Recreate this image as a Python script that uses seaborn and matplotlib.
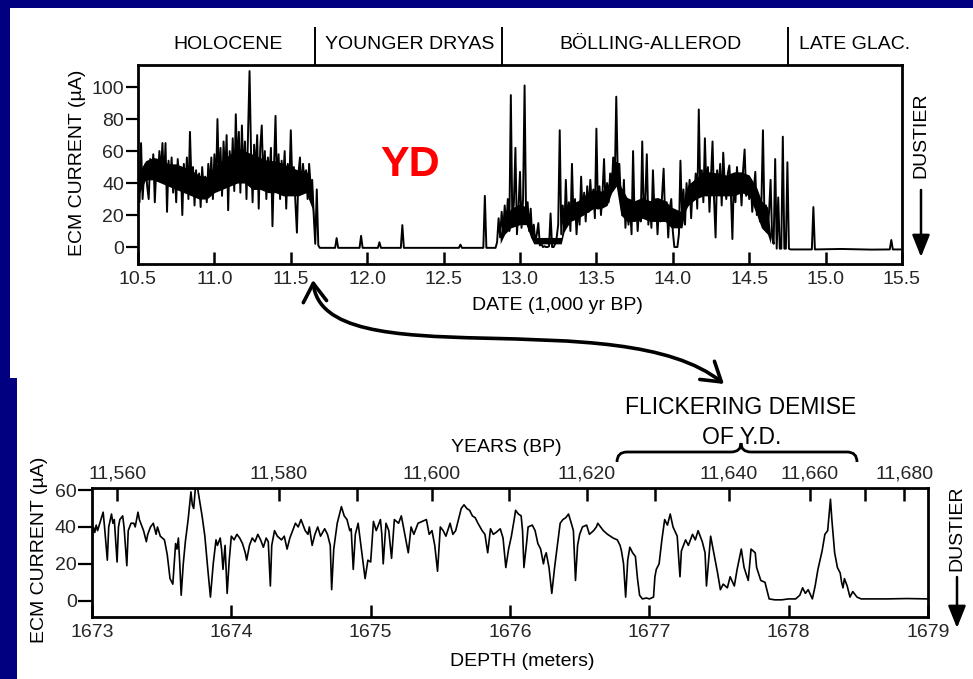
import numpy as np
import pandas as pd
import matplotlib
matplotlib.use("Agg")
import matplotlib.pyplot as plt
import seaborn as sns
from matplotlib.path import Path
from matplotlib.patches import PathPatch, FancyArrowPatch, Rectangle
from matplotlib.transforms import Affine2D, blended_transform_factory

# ---------------- DATA ----------------
# Top panel: ECM current vs date (1,000 yr BP)
holo_start = 10.50            # dense section, 0.01 kyr sampling
holo_ecm = [40, 28, 65, 30, 46, 52, 38, 30, 55, 44,
            58, 28, 50, 42, 60, 46, 65, 40, 65, 22,
            54, 38, 56, 34, 50, 28, 55, 42, 50, 20,
            52, 36, 56, 30, 72, 40, 50, 26, 48, 34,
            46, 25, 50, 36, 44, 28, 52, 38, 56, 30,
            58, 36, 80, 40, 62, 32, 66, 44, 70, 23,
            60, 40, 68, 35, 83, 48, 72, 34, 76, 44,
            66, 30, 70, 110, 58, 28, 64, 46, 70, 24,
            62, 76, 40, 60, 30, 56, 44, 62, 13, 50,
            82, 36, 58, 30, 54, 42, 60, 24, 52, 38,
            73, 40, 50, 28, 9, 46, 56, 34, 52, 40,
            48, 30, 52, 38, 42, 20, 2]

# solid black core band of the Holocene section
holo_core_date = [10.50, 10.55, 10.60, 10.65, 10.70, 10.75, 10.80, 10.85, 10.90, 10.95,
                  11.00, 11.05, 11.10, 11.15, 11.20, 11.25, 11.30, 11.35, 11.40, 11.45,
                  11.50, 11.55, 11.60, 11.64, 11.66]
holo_core_hi = [46, 54, 56, 55, 52, 52, 50, 48, 45, 44, 50, 54, 58, 62, 60, 58, 56, 54, 54, 52,
                50, 48, 48, 40, 5]
holo_core_lo = [32, 42, 42, 40, 38, 36, 34, 32, 30, 30, 34, 36, 38, 40, 40, 36, 36, 34, 34, 32,
                32, 32, 34, 24, 1]

yd_date = [11.67, 11.68, 11.69, 11.79, 11.80, 11.81, 11.95, 11.96, 11.97,
           12.07, 12.08, 12.09, 12.22, 12.23, 12.24, 12.60, 12.61, 12.62,
           12.76, 12.77, 12.78, 12.84]
yd_ecm = [36, 1, -0.5, -0.5, 5.6, -0.5, -0.5, 7, -0.5,
          -0.5, 3, -0.5, -0.5, 13.7, -0.5, -0.5, 1.5, -0.5,
          -0.5, 32, -0.5, -0.5]

ba_start = 12.85              # dense section, 0.01 kyr sampling
ba_ecm = [3, 18, 6, 22, 10,
          26, 12, 30, 10, 95,
          14, 28, 62, 8, 24,
          47, 12, 30, 101, 16,
          28, 10, 24, 6, 14,
          3, 8, 15, 1, 2,
          0, 0.5, 0, 0, 0.5,
          21, 0, 0, 2, 6,
          14, 73, 8, 26, 10,
          42, 14, 28, 10, 52,
          18, 30, 8, 26, 14,
          44, 20, 34, 16, 38,
          22, 42, 26, 36, 18,
          74, 24, 38, 20, 34,
          55, 26, 40, 28, 46,
          36, 56, 40, 94, 44,
          52, 30, 20, 42, 12,
          30, 14, 26, 8, 60,
          18, 28, 10, 24, 16,
          66, 20, 30, 58, 14,
          28, 12, 48, 22, 30,
          8, 26, 16, 32, 49,
          18, 28, 6, 24, 30,
          10, 0, 0, 0, 8,
          54, 20, 36, 14, 40,
          26, 42, 18, 38, 30,
          46, 24, 86, 34, 48,
          28, 68, 36, 50, 22,
          44, 66, 30, 6, 48,
          36, 52, 26, 59, 40,
          30, 46, 51, 34, 5,
          44, 28, 50, 36, 42,
          26, 48, 61, 32, 44,
          30, 42, 22, 36, 47,
          20, 32, 16, 28, 73,
          18, 26, 10, 22, 42,
          6, 2, 55, -1, 31,
          -1, -1, 69, -1, -1,
          53, -1]

# solid black core band of the Bölling-Allerød section
ba_core_date = [12.87, 12.90, 12.94, 13.00, 13.04, 13.07, 13.09, 13.27, 13.29,
                13.33, 13.38, 13.43, 13.48, 13.53, 13.57, 13.60, 13.63, 13.66, 13.70,
                13.75, 13.80, 13.85, 13.90, 13.95, 13.99, 14.06, 14.08, 14.10,
                14.15, 14.20, 14.25, 14.30, 14.35, 14.40, 14.45, 14.50, 14.55, 14.58,
                14.62, 14.64]
ba_core_hi = [8, 18, 24, 27, 25, 14, 6, 6, 22, 27, 29, 33, 36, 35, 37, 48, 54, 38, 31,
              29, 31, 29, 31, 29, 25, 22, 34, 39, 43, 47, 47, 46, 45, 47, 47, 45, 37, 29,
              25, 8]
ba_core_lo = [2, 8, 12, 14, 14, 6, 2, 2, 10, 16, 18, 21, 24, 24, 26, 34, 38, 20, 16,
              16, 18, 16, 16, 16, 12, 12, 22, 26, 30, 32, 32, 32, 32, 32, 34, 32, 20, 12,
              8, 2]

late_date = [14.77, 14.85, 14.91, 14.92, 14.93, 15.10, 15.30, 15.42, 15.43, 15.44, 15.50]
late_ecm = [-1.5, -1.5, -1.5, 25, -1.5, -1.2, -1.6, -1.5, 4.4, -1.5, -1.5]

era_bounds = [11.66, 12.88, 14.755]
era_names = ["HOLOCENE", "YOUNGER DRYAS", "BÖLLING-ALLEROD", "LATE GLAC."]
era_centers = [11.09, 12.28, 13.856, 15.19]

top_xticks = [10.5, 11.0, 11.5, 12.0, 12.5, 13.0, 13.5, 14.0, 14.5, 15.0, 15.5]
top_yticks = [0, 20, 40, 60, 80, 100]

# Bottom panel: ECM current vs depth (m)
depth = [1673.00, 1673.01, 1673.02, 1673.03, 1673.04, 1673.06, 1673.08, 1673.09, 1673.11, 1673.12,
         1673.14, 1673.15, 1673.16, 1673.18, 1673.19, 1673.20, 1673.22, 1673.23, 1673.25, 1673.26,
         1673.28, 1673.30, 1673.31, 1673.33, 1673.34, 1673.36, 1673.37, 1673.39, 1673.40, 1673.42,
         1673.44, 1673.46, 1673.47, 1673.49, 1673.52, 1673.54, 1673.56, 1673.58, 1673.59, 1673.60,
         1673.61, 1673.62, 1673.63, 1673.64, 1673.655, 1673.67, 1673.69, 1673.71, 1673.72, 1673.73,
         1673.745, 1673.76, 1673.79, 1673.81, 1673.83, 1673.85, 1673.87, 1673.89, 1673.90, 1673.92,
         1673.93, 1673.94, 1673.955, 1673.97, 1673.985, 1674.00, 1674.02, 1674.04, 1674.06, 1674.08,
         1674.10, 1674.11, 1674.13, 1674.15, 1674.17, 1674.19, 1674.21, 1674.23, 1674.25, 1674.265,
         1674.28, 1674.29, 1674.31, 1674.33, 1674.36, 1674.38, 1674.40, 1674.42, 1674.44, 1674.46,
         1674.48, 1674.50, 1674.52, 1674.53, 1674.55, 1674.56, 1674.58, 1674.60, 1674.62, 1674.64,
         1674.67, 1674.69, 1674.71, 1674.72, 1674.735, 1674.76, 1674.79, 1674.81, 1674.83, 1674.85,
         1674.86, 1674.875, 1674.89, 1674.91, 1674.93, 1674.96, 1674.98, 1675.00, 1675.02, 1675.04,
         1675.07, 1675.08, 1675.09, 1675.11, 1675.13, 1675.15, 1675.17, 1675.20, 1675.22, 1675.24,
         1675.27, 1675.29, 1675.31, 1675.34, 1675.37, 1675.40, 1675.42, 1675.44, 1675.46, 1675.48,
         1675.50, 1675.52, 1675.54, 1675.57, 1675.59, 1675.61, 1675.63, 1675.65, 1675.67, 1675.69,
         1675.71, 1675.73, 1675.75, 1675.77, 1675.80, 1675.82, 1675.84, 1675.86, 1675.88, 1675.90,
         1675.93, 1675.95, 1675.97, 1675.99, 1676.01, 1676.03, 1676.04, 1676.06, 1676.08, 1676.09,
         1676.10, 1676.12, 1676.13, 1676.16, 1676.18, 1676.20, 1676.22, 1676.24, 1676.25, 1676.26,
         1676.28, 1676.30, 1676.32, 1676.34, 1676.36, 1676.38, 1676.40, 1676.42, 1676.44, 1676.455,
         1676.47, 1676.485, 1676.50, 1676.52, 1676.55, 1676.57, 1676.60, 1676.62, 1676.63, 1676.65,
         1676.67, 1676.70, 1676.72, 1676.74, 1676.77, 1676.79, 1676.80, 1676.815, 1676.83, 1676.845,
         1676.86, 1676.88, 1676.90, 1676.915, 1676.93, 1676.95, 1676.98, 1677.00, 1677.03, 1677.04,
         1677.05, 1677.07, 1677.09, 1677.11, 1677.13, 1677.15, 1677.17, 1677.20, 1677.22, 1677.23,
         1677.26, 1677.28, 1677.31, 1677.33, 1677.35, 1677.38, 1677.40, 1677.41, 1677.44, 1677.46,
         1677.49, 1677.51, 1677.53, 1677.56, 1677.58, 1677.61, 1677.63, 1677.66, 1677.68, 1677.71,
         1677.73, 1677.76, 1677.77, 1677.80, 1677.83, 1677.86, 1677.90, 1677.95, 1678.00, 1678.05,
         1678.08, 1678.10, 1678.12, 1678.14, 1678.17, 1678.19, 1678.21, 1678.24, 1678.26, 1678.28,
         1678.30, 1678.31, 1678.33, 1678.35, 1678.37, 1678.38, 1678.39, 1678.40, 1678.42, 1678.44,
         1678.46, 1678.49, 1678.52, 1678.70, 1678.85, 1679.00]
ecm_depth = [35, 40, 37, 41, 38, 43, 48, 40, 22, 40,
             47, 42, 44, 21, 40, 44, 46, 40, 19, 38,
             42, 42, 40, 48, 44, 40, 38, 32, 36, 40,
             42, 36, 40, 35, 33, 25, 12, 9, 20, 31,
             28, 34, 20, 3, 20, 32, 44, 59, 52, 50,
             64, 60, 46, 35, 18, 2, 20, 33, 30, 34,
             28, 17, 30, 4, 22, 35, 33, 36, 34, 31,
             26, 22, 30, 34, 32, 36, 33, 29, 34, 32,
             8, 30, 38, 35, 33, 35, 28, 34, 38, 42,
             40, 44, 40, 38, 36, 40, 30, 36, 40, 35,
             39, 36, 30, 6, 28, 42, 51, 46, 44, 38,
             39, 17, 36, 42, 30, 12, 22, 21, 43, 38,
             44, 36, 20, 42, 38, 23, 44, 42, 46, 38,
             26, 40, 36, 42, 43, 44, 36, 38, 30, 16,
             40, 38, 35, 42, 36, 38, 44, 50, 52, 50,
             49, 46, 45, 42, 38, 36, 26, 39, 36, 37,
             39, 34, 18, 28, 35, 44, 49, 47, 46, 38,
             18, 32, 40, 41, 38, 31, 28, 20, 24, 26,
             18, 4, 18, 30, 42, 44, 45, 47, 42, 38,
             11, 30, 36, 40, 41, 36, 38, 40, 42, 40,
             38, 36, 35, 34, 33, 30, 27, 20, 2, 22,
             29, 26, 24, 12, 3, 1, 1.5, 1, 2, 13,
             17, 20, 33, 44, 41, 47, 40, 35, 13, 27,
             33, 30, 36, 33, 38, 32, 26, 8, 35, 27,
             15, 6, 9, 7, 13, 8, 17, 28, 18, 11,
             28, 26, 18, 11, 10, 1, 0.5, 0.5, 1, 1,
             3, 7, 4, 6, 1, 8, 17, 27, 36, 38,
             55, 44, 26, 18, 15, 10, 7, 12, 8, 2,
             5, 2, 1, 1, 1.2, 1]

depth_ticks = [1673, 1674, 1675, 1676, 1677, 1678, 1679]
bot_yticks = [0, 20, 40, 60]
year_tick_depth = [1673.18, 1674.34, 1674.90, 1675.44, 1675.99, 1676.55,
                   1677.04, 1677.57, 1678.15, 1678.55, 1678.83]
year_tick_labels = ["11,560", "11,580", "", "11,600", "", "11,620",
                    "", "11,640", "11,660", "", "11,680"]

# ---------------- FIGURE ----------------
sns.set_theme(style="white")
plt.rcParams["font.family"] = ["Liberation Sans", "DejaVu Sans"]

W, H = 973, 679
fig = plt.figure(figsize=(W / 100, H / 100), dpi=100, facecolor="#000080")
pix = Affine2D().scale(1 / W, -1 / H).translate(0, 1) + fig.transFigure


def ptext(x, y, s, **kw):
    kw.setdefault("ha", "center")
    kw.setdefault("va", "center")
    kw.setdefault("fontsize", 14)
    kw.setdefault("color", "black")
    fig.text(x / W, 1 - y / H, s, **kw)


# white slide panels
fig.add_artist(Rectangle((10, 8), W - 10, 370, transform=pix,
                         facecolor="white", edgecolor="none", zorder=-10))
fig.add_artist(Rectangle((17, 370), W - 17, H - 370, transform=pix,
                         facecolor="white", edgecolor="none", zorder=-10))

ax1 = fig.add_axes([138 / W, 1 - 264 / H, 764 / W, 199 / H])
ax2 = fig.add_axes([92 / W, 1 - 617 / H, 836 / W, 129 / H])

# ---- top panel data ----
holo_date = holo_start + 0.01 * np.arange(len(holo_ecm))
ba_date = ba_start + 0.01 * np.arange(len(ba_ecm))
df_top = pd.DataFrame({
    "date": np.concatenate([holo_date, yd_date, ba_date, late_date]),
    "ecm": np.concatenate([holo_ecm, yd_ecm, ba_ecm, late_ecm]),
})
ax1.fill_between(holo_core_date, holo_core_lo, holo_core_hi, color="black",
                 lw=0, zorder=2)
ax1.fill_between(ba_core_date, ba_core_lo, ba_core_hi, color="black",
                 lw=0, zorder=2)
sns.lineplot(data=df_top, x="date", y="ecm", ax=ax1, color="black", lw=1.4,
             estimator=None, sort=False, zorder=3)

df_bot = pd.DataFrame({"depth": depth, "ecm": ecm_depth})
sns.lineplot(data=df_bot, x="depth", y="ecm", ax=ax2, color="black", lw=1.2,
             estimator=None, sort=False)

for ax in (ax1, ax2):
    ax.set_facecolor("white")
    for sp in ax.spines.values():
        sp.set_color("black")
        sp.set_linewidth(2.0)
        sp.set_visible(True)
    ax.set_xlabel("")
    ax.set_ylabel("")

# top axes
ax1.set_xlim(10.5, 15.5)
ax1.set_ylim(-10.6, 113.8)
ax1.set_xticks(top_xticks)
ax1.set_xticklabels([f"{t:.1f}" for t in top_xticks])
ax1.set_yticks(top_yticks)
ax1.tick_params(axis="x", direction="in", length=9, width=1.8, pad=5,
                labelsize=14, bottom=True, top=False, color="black")
ax1.tick_params(axis="y", direction="out", length=9, width=1.6, pad=1,
                labelsize=14, left=True, right=False, color="black")

# bottom axes
ax2.set_xlim(1673, 1679)
ax2.set_ylim(-8.8, 61.1)
ax2.set_xticks(depth_ticks)
ax2.set_yticks(bot_yticks)
ax2.tick_params(axis="x", direction="in", length=9, width=1.8, pad=5,
                labelsize=14, bottom=True, top=False, color="black")
ax2.tick_params(axis="y", direction="out", length=10, width=1.6, pad=1,
                labelsize=14, left=True, right=False, color="black")
axt = ax2.twiny()
axt.set_xlim(1673, 1679)
axt.set_xticks(year_tick_depth)
axt.set_xticklabels(year_tick_labels)
axt.tick_params(axis="x", direction="in", length=9, width=1.8, pad=4,
                labelsize=14, top=True, bottom=False, color="black")
for sp in axt.spines.values():
    sp.set_visible(False)

# era dividers and labels above top panel
btrans = blended_transform_factory(ax1.transData, ax1.transAxes)
for b in era_bounds:
    ax1.plot([b, b], [1.0, 1.19], transform=btrans, color="black", lw=1.4,
             clip_on=False, solid_capstyle="butt")
for name, c in zip(era_names, era_centers):
    ax1.text(c, 1.105, name, transform=btrans, ha="center", va="center",
             fontsize=14, color="black")

ax1.text(12.28, 51, "YD", color="#ff0000", fontsize=31, fontweight="bold",
         ha="center", va="center", zorder=5)

# axis labels
ptext(557, 305, "DATE (1,000 yr BP)")
ptext(77, 163, "ECM CURRENT (µA)", rotation=90)
ptext(40, 550, "ECM CURRENT (µA)", rotation=90)
ptext(522, 662, "DEPTH (meters)")
ptext(506, 447, "YEARS (BP)")
ptext(741, 407, "FLICKERING DEMISE", fontsize=16.5)
ptext(742, 437, "OF Y.D.", fontsize=16.5)
ptext(921, 135, "DUSTIER", rotation=90)
ptext(957, 528, "DUSTIER", rotation=90)

# DUSTIER arrows
for x0, y0, y1 in [(921, 190, 257), (957, 577, 628)]:
    fig.add_artist(FancyArrowPatch((x0, y0), (x0, y1), transform=pix,
                                   arrowstyle="-|>,head_length=0.75,head_width=0.3",
                                   mutation_scale=18, color="black", lw=1.8,
                                   shrinkA=0, shrinkB=0))

# brace over "flickering demise"
bv = [(617, 462), (617, 452), (627, 452),
      (731, 452), (741, 452), (741, 443),
      (741, 452), (751, 452),
      (847, 452), (857, 452), (857, 462)]
bc = [Path.MOVETO, Path.CURVE3, Path.CURVE3,
      Path.LINETO, Path.CURVE3, Path.CURVE3,
      Path.CURVE3, Path.CURVE3,
      Path.LINETO, Path.CURVE3, Path.CURVE3]
fig.add_artist(PathPatch(Path(bv, bc), transform=pix, facecolor="none",
                         edgecolor="black", lw=2.0))

# curved double arrow linking the two panels
cv = [(313, 280), (322, 380), (620, 300), (724, 384)]
cc = [Path.MOVETO, Path.CURVE4, Path.CURVE4, Path.CURVE4]
fig.add_artist(FancyArrowPatch(path=Path(cv, cc), transform=pix,
                               arrowstyle="<->,head_length=0.55,head_width=0.35",
                               mutation_scale=24, color="black", lw=2.6))

fig.savefig("out.png", dpi=100, facecolor=fig.get_facecolor())
